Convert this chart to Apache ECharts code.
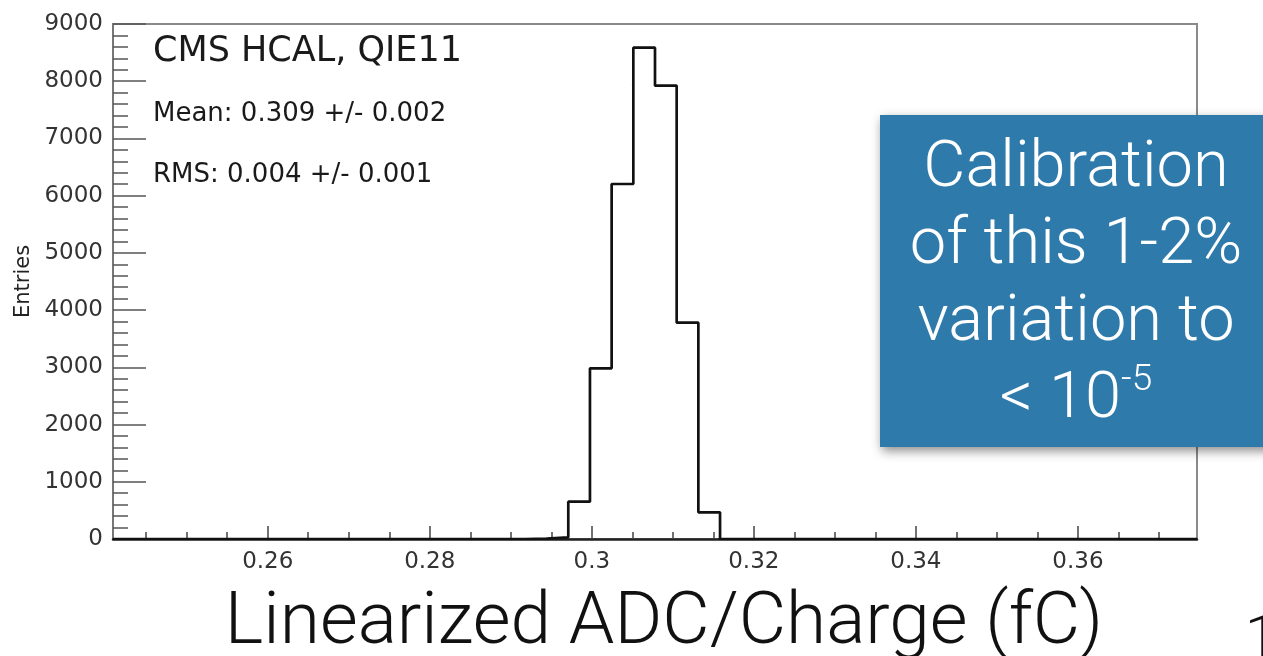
<!DOCTYPE html>
<html>
<head>
<meta charset="utf-8">
<script src="https://cdn.jsdelivr.net/npm/echarts@6/dist/echarts.min.js"></script>
<style>
  html, body { margin: 0; padding: 0; background: #fff; }
  #main { width: 1263px; height: 656px; }
</style>
</head>
<body>
<div id="main"></div>
<script>
// histogram binning (50 bins) and counts
var binMin = 0.2409;
var binWidth = 0.002676;
var counts = [
    0, 0, 0, 0, 0, 0, 0, 0, 0, 0,
    0, 0, 0, 0, 0, 0, 0, 0, 0, 5,
    30, 652, 2983, 6204, 8586, 7922, 3780, 467, 0, 0,
    0, 0, 0, 0, 0, 0, 0, 0, 0, 0,
    0, 0, 0, 0, 0, 0, 0, 0, 0, 0
];
var xMajorTicks = [0.26, 0.28, 0.30, 0.32, 0.34, 0.36];
var xMinorTicks = [0.245, 0.25, 0.255, 0.265, 0.27, 0.275, 0.285, 0.29, 0.295,
    0.305, 0.31, 0.315, 0.325, 0.33, 0.335, 0.345, 0.35, 0.355, 0.365, 0.37];
var xLabels = ['0.26', '0.28', '0.3', '0.32', '0.34', '0.36'];
var statLines = ['CMS HCAL, QIE11', 'Mean: 0.309 +/- 0.002', 'RMS: 0.004 +/- 0.001'];

var xMax = binMin + counts.length * binWidth;

// step outline: one point per bin low edge, plus the last high edge
var stepData = [];
for (var i = 0; i < counts.length; i++) {
    stepData.push([binMin + i * binWidth, counts[i]]);
}
stepData.push([xMax, counts[counts.length - 1]]);

var rootFont = 'DejaVu Sans';
var lightFont = 'Roboto';

var myChart = echarts.init(document.getElementById('main'));
var option = {
    backgroundColor: '#fff',
    animation: false,
    grid: {
        left: 113, top: 24, right: 66, bottom: 117,
        outerBoundsMode: 'none',
        show: true, borderColor: '#8a8a8a', borderWidth: 2, backgroundColor: '#fff'
    },
    xAxis: [{
        type: 'value',
        min: binMin, max: xMax,
        name: 'Linearized ADC/Charge (fC)',
        nameLocation: 'middle',
        nameGap: 49,
        nameTextStyle: { fontFamily: lightFont, fontWeight: 300, fontSize: 73, color: '#111', padding: [0, 0, 0, 18] },
        axisLine: { show: true, onZero: false, lineStyle: { color: '#222', width: 2.5 } },
        axisTick: { show: true, inside: true, length: 13, customValues: xMajorTicks, lineStyle: { color: '#444', width: 1.5 } },
        axisLabel: {
            show: true, margin: 12, customValues: xMajorTicks,
            fontFamily: rootFont, fontSize: 23, color: '#333',
            formatter: function (v) {
                var k = xMajorTicks.indexOf(Math.round(v * 1000) / 1000);
                return k >= 0 ? xLabels[k] : '';
            }
        },
        splitLine: { show: false }
    }, {
        type: 'value',
        min: binMin, max: xMax,
        position: 'bottom',
        axisLine: { show: false },
        axisTick: { show: true, inside: true, length: 7, customValues: xMinorTicks, lineStyle: { color: '#444', width: 1.5 } },
        axisLabel: { show: false },
        splitLine: { show: false }
    }],
    yAxis: {
        type: 'value',
        min: 0, max: 9000, interval: 1000,
        name: 'Entries',
        nameLocation: 'middle',
        nameGap: 60,
        nameTextStyle: { fontFamily: rootFont, fontSize: 21, color: '#222' },
        axisLine: { show: true, lineStyle: { color: '#777', width: 2 } },
        axisTick: { show: true, inside: true, length: 33, lineStyle: { color: '#555', width: 1.5 } },
        minorTick: { show: true, splitNumber: 5, length: 15, lineStyle: { color: '#555', width: 1.5 } },
        axisLabel: {
            margin: 10, padding: [6, 0, 0, 0], fontFamily: rootFont, fontSize: 23, color: '#333',
            formatter: function (v) { return String(v); }
        },
        splitLine: { show: false }
    },
    series: [{
        type: 'line',
        step: 'end',
        data: stepData,
        symbol: 'none',
        lineStyle: { color: '#111', width: 2.7 },
        z: 5
    }],
    graphic: [
        { type: 'text', left: 153, top: 34, style: { text: statLines[0], fontFamily: rootFont, fontSize: 35, fill: '#1a1a1a' } },
        { type: 'text', left: 153, top: 101, style: { text: statLines[1], fontFamily: rootFont, fontSize: 26, fill: '#1a1a1a' } },
        { type: 'text', left: 153, top: 162, style: { text: statLines[2], fontFamily: rootFont, fontSize: 26, fill: '#1a1a1a' } },
        {
            type: 'rect', left: 880, top: 115, z: 20,
            shape: { width: 400, height: 332 },
            style: { fill: '#2e7aab', shadowBlur: 10, shadowOffsetX: 2, shadowOffsetY: 4, shadowColor: 'rgba(0,0,0,0.45)' }
        },
        {
            type: 'text', x: 1076, y: 131, z: 21,
            style: {
                text: 'Calibration\nof this 1-2%\nvariation to\n< 10{sup|-5}',
                align: 'center', verticalAlign: 'top',
                fontFamily: lightFont, fontWeight: 300, fontSize: 65, lineHeight: 77, fill: '#fff',
                rich: { sup: { fontFamily: lightFont, fontWeight: 300, fontSize: 37, verticalAlign: 'top', fill: '#fff', lineHeight: 77 } }
            }
        },
        { type: 'text', x: 1245, y: 612, style: { text: '1', fontFamily: lightFont, fontWeight: 300, fontSize: 58, fill: '#111' } }
    ]
};
myChart.setOption(option);
</script>
</body>
</html>
